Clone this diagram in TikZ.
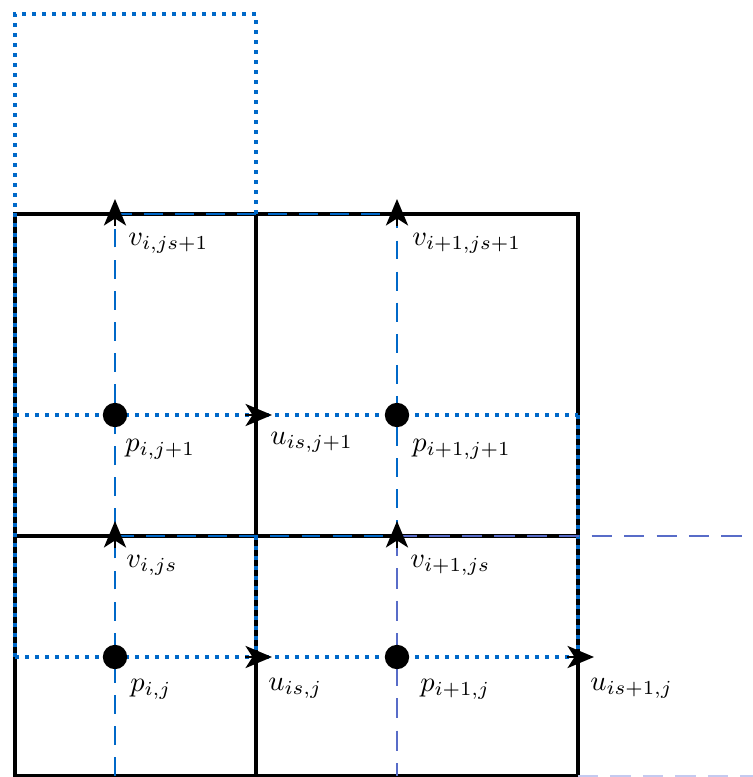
\documentclass[tikz,border=0pt]{standalone}
\usetikzlibrary{arrows.meta}
\definecolor{cvblue}{RGB}{0,104,200}
\definecolor{ghost}{RGB}{88,108,200}
\definecolor{ghostlight}{RGB}{196,202,240}
\begin{document}
\begin{tikzpicture}[x=0.013cm,y=-0.013cm,
  cell/.style={black, line width=1.15pt},
  cvdot/.style={cvblue, line width=1.35pt, dash pattern=on 1.35pt off 2.35pt},
  cvdash/.style={cvblue, line width=0.95pt, dash pattern=on 7pt off 4.5pt},
  ghdash/.style={ghost, line width=0.95pt, dash pattern=on 7.5pt off 4.5pt},
  pdot/.style={circle, fill=black, inner sep=0pt, minimum size=9pt},
  vec/.style={-{Stealth[length=9.8pt,width=8.2pt,inset=2.6pt]}, black, line width=0.9pt},
  lab/.style={anchor=north west, inner sep=1pt, scale=1.05}]
\useasboundingbox (0,0) rectangle (752,777);

\draw[cell] (15,214) rectangle (578,776);
\draw[cell] (15,536) -- (578,536);
\draw[cell] (256,214) -- (256,776);

\draw[cvdot] (15,657) -- (15,14) -- (256,14) -- (256,214);
\draw[cvdot] (256,536) -- (256,657);
\draw[cvdot] (578,415) -- (578,657);
\draw[cvdot] (15,415) -- (578,415);
\draw[cvdot] (15,657) -- (578,657);

\draw[cvdash] (115,776) -- (115,214) -- (397,214) -- (397,536);
\draw[cvdash] (115,536) -- (397,536);
\draw[ghdash] (397,536) -- (760,536);
\draw[ghdash] (397,536) -- (397,776);
\draw[ghostlight, line width=0.95pt, dash pattern=on 7.5pt off 4.5pt] (578,776) -- (760,776);

\node[pdot] (p11) at (115,657) {};
\node[pdot] (p21) at (397,657) {};
\node[pdot] (p12) at (115,415) {};
\node[pdot] (p22) at (397,415) {};
\coordinate (u11) at (256,657);
\coordinate (u21) at (578,657);
\coordinate (u12) at (256,415);
\coordinate (v11) at (115,536);
\coordinate (v21) at (397,536);
\coordinate (v12) at (115,214);
\coordinate (v22) at (397,214);

\draw[vec] (u11) ++(-11,0) -- ++(27,0);
\draw[vec] (u21) ++(-11,0) -- ++(27,0);
\draw[vec] (u12) ++(-11,0) -- ++(27,0);
\draw[vec] (v11) ++(0,12) -- ++(0,-27);
\draw[vec] (v21) ++(0,12) -- ++(0,-27);
\draw[vec] (v12) ++(0,12) -- ++(0,-27);
\draw[vec] (v22) ++(0,12) -- ++(0,-27);

\node[lab] at ([shift={(3,10)}]p11.south east) {$p_{i,j}$};
\node[lab] at ([shift={(11,10)}]p21.south east) {$p_{i+1,j}$};
\node[lab] at ([shift={(-2,12)}]p12.south east) {$p_{i,j+1}$};
\node[lab] at ([shift={(3,12)}]p22.south east) {$p_{i+1,j+1}$};
\node[lab] at ([shift={(9,18)}]u11) {$u_{is,j}$};
\node[lab] at ([shift={(9,18)}]u21) {$u_{is+1,j}$};
\node[lab] at ([shift={(11,14)}]u12) {$u_{is,j+1}$};
\node[lab] at ([shift={(8,16)}]v11) {$v_{i,js}$};
\node[lab] at ([shift={(10,16)}]v21) {$v_{i+1,js}$};
\node[lab] at ([shift={(10,16)}]v12) {$v_{i,js+1}$};
\node[lab] at ([shift={(12,16)}]v22) {$v_{i+1,js+1}$};
\end{tikzpicture}
\end{document}
